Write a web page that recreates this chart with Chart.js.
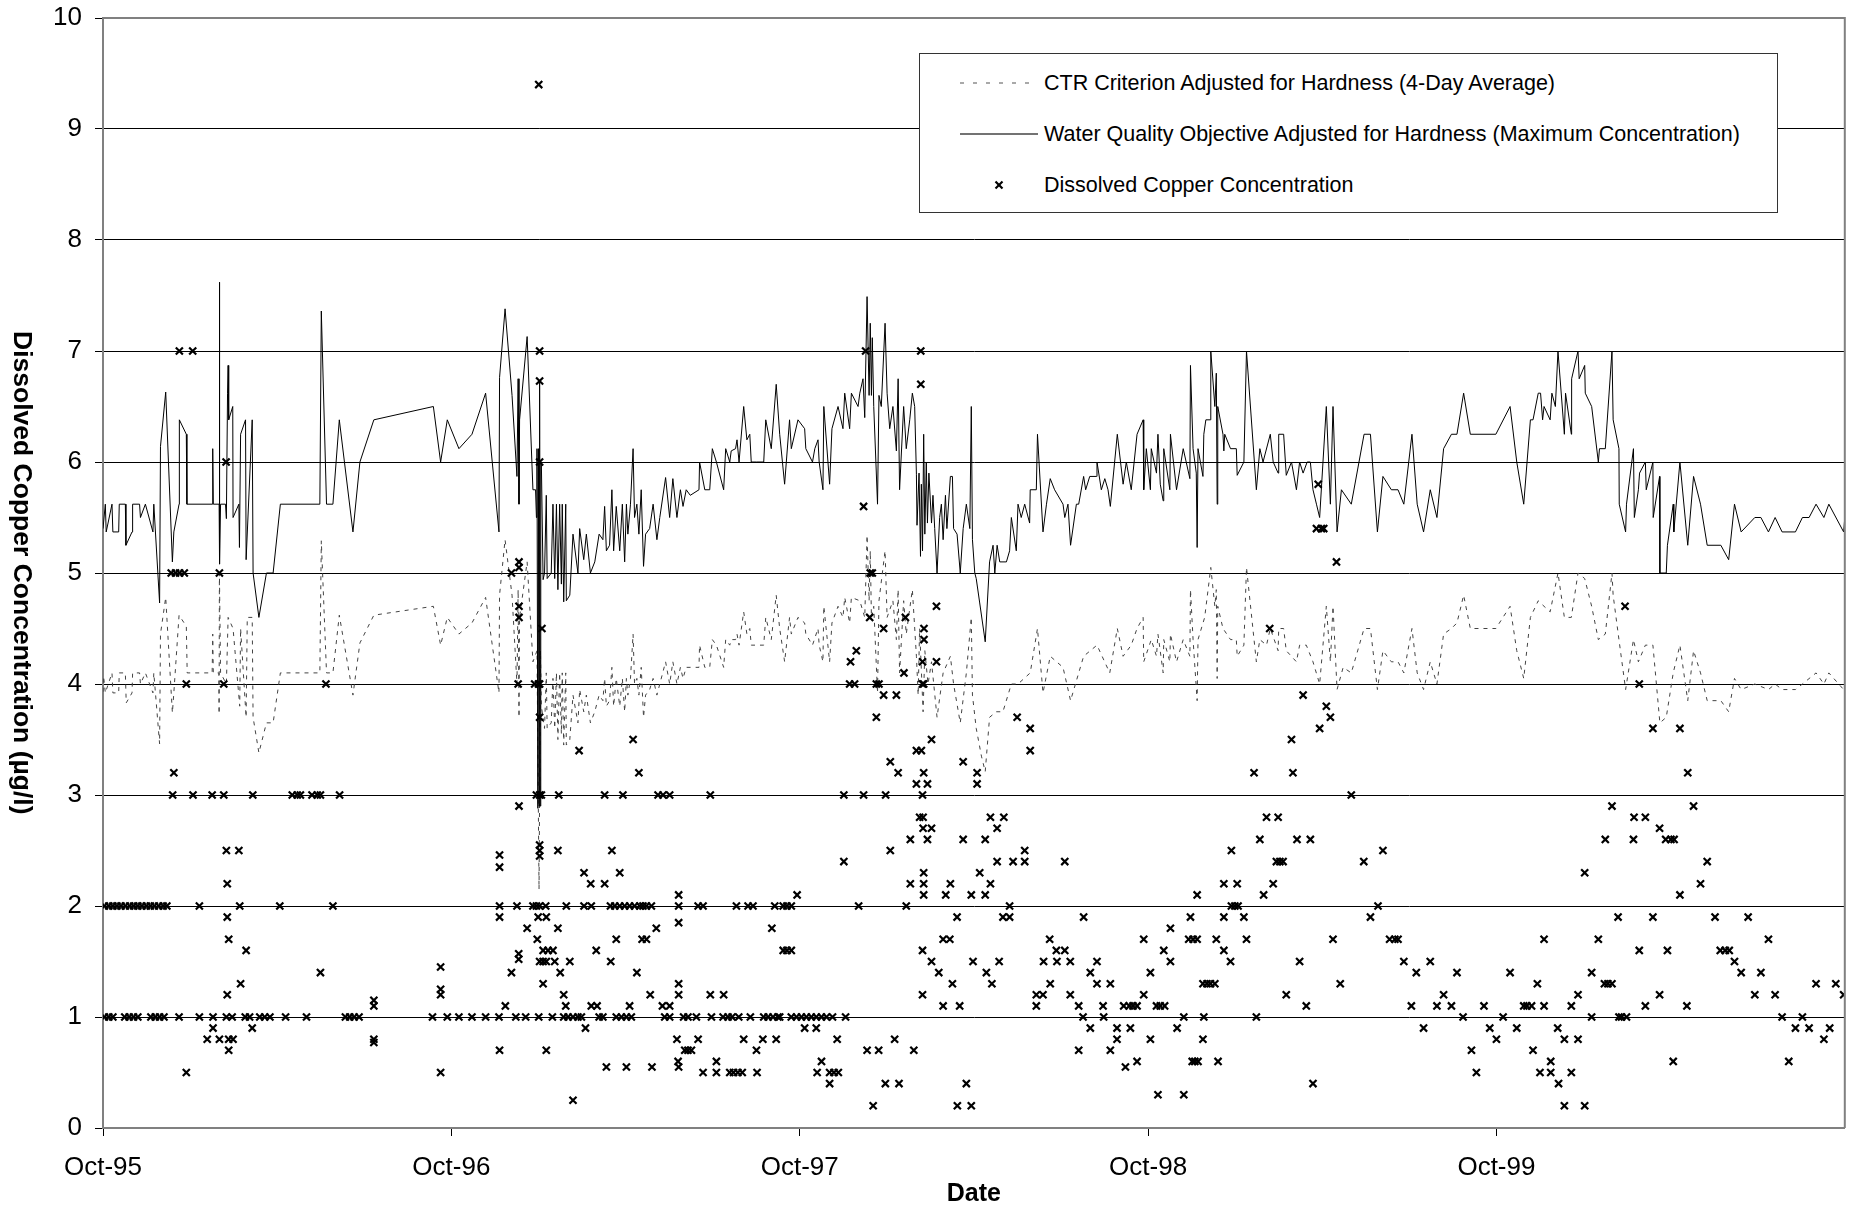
<!DOCTYPE html>
<html>
<head>
<meta charset="utf-8">
<title>Dissolved Copper Concentration</title>
<script src="https://cdn.jsdelivr.net/npm/chart.js@4.4.1/dist/chart.umd.min.js"></script>
<style>
    body { margin: 0; background: #fff; }
    #chartBox { position: relative; width: 1852px; height: 1209px; }
    #yTitle {
        position: absolute; left: 8px; top: 18px; width: 30px; height: 1110px;
        writing-mode: vertical-rl; text-align: center; line-height: 30px;
        font-family: "Liberation Sans", Arial, sans-serif; font-size: 26.5px; font-weight: bold; color: #000;
    }
    #legendBox {
        position: absolute; left: 919px; top: 53px; width: 857px; height: 158px;
        border: 1px solid #333; background: #fff;
        font-family: "Liberation Sans", Arial, sans-serif; font-size: 21.5px; color: #000;
    }
    .legendText { position: absolute; left: 124px; height: 26px; line-height: 26px; white-space: nowrap; }
    .legendIcon { position: absolute; left: 38px; width: 82px; height: 10px; }
</style>
</head>
<body>
<div id="chartBox">
    <canvas id="copperChart" width="1852" height="1209"></canvas>
    <div id="yTitle">Dissolved Copper Concentration (µg/l)</div>
    <div id="legendBox">
        <svg class="legendIcon" style="top:24px" viewBox="0 0 82 10"><line x1="2" y1="5" x2="80" y2="5" stroke="#555" stroke-width="1.2" stroke-dasharray="4 9"/></svg>
        <div class="legendText" style="top:16px">CTR Criterion Adjusted for Hardness (4-Day Average)</div>
        <svg class="legendIcon" style="top:75px" viewBox="0 0 82 10"><line x1="2" y1="5" x2="80" y2="5" stroke="#444" stroke-width="1.5"/></svg>
        <div class="legendText" style="top:67px">Water Quality Objective Adjusted for Hardness (Maximum Concentration)</div>
        <svg class="legendIcon" style="top:126px" viewBox="0 0 82 10"><line x1="37.5" y1="1.5" x2="44.5" y2="8.5" stroke="#000" stroke-width="2.2"/><line x1="44.5" y1="1.5" x2="37.5" y2="8.5" stroke="#000" stroke-width="2.2"/></svg>
        <div class="legendText" style="top:118px">Dissolved Copper Concentration</div>
    </div>
</div>
<script>
// x values are months since Oct-95
var tickMonths = [0, 12, 24, 36, 48];
var tickLabels = ["Oct-95", "Oct-96", "Oct-97", "Oct-98", "Oct-99"];

// Water Quality Objective adjusted for hardness (maximum concentration) [month, ug/l]
var wqoLine = [
[0,5.4],[0.08,5.62],[0.11,5.37],[0.31,5.62],[0.34,5.37],[0.54,5.37],[0.56,5.62],[0.77,5.62],[0.79,5.25],[1.0,5.37],[1.02,5.62],[1.26,5.62],[1.29,5.5],[1.46,5.62],[1.72,5.37],[1.75,5.62],[1.95,4.73],[1.98,6.14],[2.16,6.63],[2.39,5.1],[2.44,5.37],[2.62,5.62],[2.63,6.38],[2.87,6.25],[2.89,5.62],[3.76,5.62],[3.78,6.12],[3.8,5.62],[4.0,5.62],[4.01,7.62],[4.02,5.08],[4.05,5.62],[4.22,5.62],[4.25,5.49],[4.29,6.62],[4.31,6.87],[4.33,6.38],[4.47,6.5],[4.48,5.5],[4.68,5.62],[4.7,5.23],[4.74,6.25],[4.91,6.38],[4.93,5.12],[5.14,6.38],[5.17,5.0],[5.37,4.6],[5.63,5.0],[5.86,5.0],[6.11,5.62],[7.47,5.62],[7.52,7.36],[7.7,5.62],[7.92,5.62],[8.14,6.38],[8.61,5.37],[8.85,6.0],[9.33,6.38],[11.38,6.5],[11.63,6.0],[11.86,6.38],
[12.26,6.12],[12.71,6.25],[13.18,6.62],[13.64,5.37],[13.66,6.76],[13.85,7.38],[14.09,6.6],[14.26,5.87],[14.3,6.75],[14.33,5.62],[14.35,6.38],[14.61,7.13],[14.81,5.75],[14.9,5.75],[14.93,5.5],[14.95,6.12],[14.98,2.88],[15.0,6.12],[15.02,2.9],[15.04,6.72],[15.06,2.9],[15.08,6.0],[15.1,6.0],[15.16,4.94],[15.21,5.0],[15.27,5.7],[15.3,4.95],[15.44,5.0],[15.5,5.62],[15.56,4.95],[15.62,5.62],[15.67,4.85],[15.73,5.62],[15.79,4.9],[15.82,5.62],[15.87,4.74],[15.94,5.62],[15.96,4.75],[16.08,4.8],[16.19,5.35],[16.36,5.0],[16.42,5.4],[16.56,5.12],[16.65,5.35],[16.79,5.0],[16.94,5.1],[17.09,5.35],[17.22,5.3],[17.28,5.6],[17.34,5.2],[17.45,5.25],[17.53,5.75],[17.59,5.2],[17.68,5.6],[17.8,5.2],[17.89,5.62],[17.97,5.1],[18.03,5.62],[18.08,5.35],[18.17,5.62],[18.26,6.12],[18.31,5.5],[18.39,5.62],[18.46,5.35],[18.54,5.75],[18.62,5.06],[18.69,5.35],[18.83,5.4],[18.95,5.62],[19.08,5.3],[19.18,5.5],[19.38,5.86],[19.52,5.5],[19.63,5.85],[19.77,5.5],[19.89,5.75],[19.98,5.6],[20.09,5.75],[20.23,5.7],[20.53,5.75],[20.55,6.0],[20.73,5.75],[20.9,5.75],[20.99,6.12],[21.13,6.0],[21.38,5.75],[21.45,6.12],[21.59,6.0],[21.64,6.1],[21.79,6.12],[21.84,6.2],[21.91,6.0],[22.07,6.5],[22.18,6.2],[22.28,6.25],[22.33,6.0],[22.51,6.0],[22.76,6.0],[22.83,6.38],[23.02,6.12],[23.19,6.7],[23.31,6.25],[23.48,5.8],[23.65,6.38],[23.71,6.12],[23.94,6.38],
[24.17,6.3],[24.21,6.12],[24.44,6.0],[24.52,6.12],[24.63,6.2],[24.67,6.0],[24.8,5.75],[24.83,6.5],[25.03,5.8],[25.11,6.3],[25.32,6.5],[25.49,6.3],[25.55,6.62],[25.72,6.3],[25.78,6.62],[26.01,6.5],[26.07,6.62],[26.18,6.75],[26.24,6.4],[26.32,7.49],[26.39,6.6],[26.43,7.25],[26.47,6.6],[26.5,7.12],[26.55,6.5],[26.68,5.62],[26.73,6.6],[26.81,6.5],[26.94,7.25],[27.01,6.62],[27.1,6.3],[27.21,6.5],[27.33,6.1],[27.39,6.75],[27.44,5.75],[27.58,6.5],[27.67,6.12],[27.79,6.38],[27.88,6.62],[27.96,6.5],[28.02,5.89],[28.04,5.43],[28.11,5.9],[28.16,5.15],[28.19,5.8],[28.23,5.2],[28.27,6.25],[28.31,5.35],[28.36,6.0],[28.4,5.45],[28.45,5.9],[28.54,5.45],[28.59,5.7],[28.65,5.4],[28.73,5.0],[28.82,5.5],[28.88,5.62],[28.94,5.3],[29.02,5.7],[29.07,5.4],[29.19,5.87],[29.26,5.87],[29.3,5.4],[29.42,5.35],[29.53,5.0],[29.63,5.4],[29.74,5.62],[29.86,5.4],[29.91,6.5],[29.95,5.3],[30.03,5.0],[30.08,4.95],[30.2,4.73],[30.39,4.38],[30.54,5.1],[30.66,5.25],[30.72,5.0],[30.8,5.25],[30.89,5.1],[31.12,5.1],[31.23,5.2],[31.29,5.5],[31.46,5.2],[31.52,5.62],[31.63,5.5],[31.75,5.62],[31.92,5.45],[31.94,5.75],[32.15,5.75],[32.19,6.25],[32.38,5.37],[32.5,5.62],[32.63,5.85],[32.78,5.75],[33.07,5.62],[33.13,5.5],[33.24,5.62],[33.33,5.25],[33.53,5.62],[33.61,5.62],[33.78,5.87],[33.85,5.75],[33.99,5.87],[34.22,5.87],[34.24,6.0],[34.39,5.75],[34.51,5.85],[34.62,5.75],[34.7,5.6],[34.94,6.25],[35.14,5.8],[35.25,6.0],[35.42,5.75],[35.62,6.25],
[35.83,6.38],[35.85,5.75],[35.94,6.12],[36.08,5.75],[36.11,6.12],[36.29,5.9],[36.34,6.25],[36.42,5.8],[36.52,5.65],[36.54,6.12],[36.75,5.75],[36.77,6.25],[36.98,5.75],[37.21,6.12],[37.44,5.85],[37.46,6.87],[37.55,6.12],[37.66,5.9],[37.69,5.23],[37.72,6.12],[37.89,5.87],[37.92,6.25],[37.99,6.38],[38.15,6.38],[38.16,7.0],[38.3,6.5],[38.35,6.8],[38.38,5.62],[38.4,6.5],[38.58,6.25],[38.61,6.1],[38.64,6.25],[38.84,6.12],[39.04,6.12],[39.07,5.88],[39.3,6.0],[39.39,7.0],[39.73,5.75],[39.85,6.12],[39.96,6.0],[40.21,6.25],[40.31,6.0],[40.48,5.9],[40.5,6.25],[40.67,6.25],[40.76,5.88],[40.94,6.0],[41.11,5.75],[41.22,6.0],[41.34,5.9],[41.48,6.0],[41.59,6.0],[41.68,5.75],[41.8,5.62],[41.91,5.5],[42.14,6.5],[42.28,5.62],[42.37,6.5],[42.51,5.37],[42.66,5.75],[43.0,5.62],[43.44,6.25],[43.66,6.25],[43.9,5.37],[44.09,5.87],[44.38,5.75],[44.61,5.75],[44.81,5.62],[45.09,6.25],[45.27,5.62],[45.49,5.37],[45.72,5.75],[45.95,5.5],[46.18,6.12],[46.45,6.25],[46.64,6.25],[46.87,6.62],
[47.1,6.25],[47.98,6.25],[48.47,6.5],[48.7,6.0],[48.94,5.62],[49.17,6.38],[49.26,6.38],[49.44,6.62],[49.52,6.62],[49.59,6.38],[49.64,6.5],[49.85,6.38],[49.91,6.62],[50.03,6.5],[50.12,7.0],[50.34,6.25],[50.38,6.62],[50.58,6.25],[50.59,6.75],[50.81,7.0],[50.85,6.75],[51.04,6.87],[51.06,6.62],[51.28,6.5],[51.51,6.0],[51.55,6.12],[51.75,6.12],[51.98,7.0],[52.02,6.38],[52.22,6.12],[52.23,5.62],[52.45,5.37],[52.48,5.62],[52.72,6.12],[52.75,5.5],[52.89,5.75],[52.93,5.9],[53.13,6.0],[53.16,5.75],[53.39,6.0],[53.4,5.5],[53.62,5.87],[53.63,5.0],[53.85,5.0],[53.89,5.25],[54.09,5.62],[54.11,5.37],[54.32,6.0],[54.59,5.25],[54.79,5.87],[55.03,5.62],[55.26,5.25],[55.73,5.25],[56.0,5.12],[56.2,5.62],[56.43,5.37],[56.9,5.5],[57.11,5.5],[57.37,5.37],[57.6,5.5],[57.84,5.37],[58.3,5.37],[58.54,5.5],[58.77,5.5],[59.01,5.62],[59.28,5.5],[59.45,5.62],[59.96,5.37],[60,5.5]
];

// CTR criterion adjusted for hardness (4-day average) [month, ug/l]
var ctrLine = [
[0,3.93],[0.02,4.07],[0.08,3.92],[0.31,4.1],[0.34,3.92],[0.54,3.92],[0.56,4.1],[0.77,4.1],[0.8,3.83],[1.0,3.92],[1.02,4.1],[1.26,4.1],[1.29,4.0],[1.46,4.1],[1.72,3.92],[1.75,4.1],[1.95,3.46],[1.98,4.45],[2.16,4.78],[2.39,3.74],[2.44,3.92],[2.62,4.62],[2.87,4.52],[2.9,4.1],[3.76,4.1],[3.78,4.45],[3.8,4.1],[3.99,4.1],[4.0,3.73],[4.01,5.0],[4.05,4.1],[4.25,4.0],[4.31,4.6],[4.48,4.5],[4.71,3.8],[4.74,4.5],[4.93,3.7],[4.97,4.6],[5.14,4.6],[5.17,3.7],[5.37,3.38],[5.63,3.65],[5.86,3.65],[6.11,4.1],[7.47,4.1],[7.52,5.29],[7.7,4.1],[7.92,4.1],[8.14,4.62],[8.61,3.9],[8.85,4.37],[9.33,4.62],[11.38,4.7],[11.63,4.35],[11.86,4.6],
[12.26,4.45],[12.71,4.55],[13.18,4.78],[13.64,3.92],[13.66,4.8],[13.85,5.3],[14.09,4.8],[14.26,4.0],[14.3,4.85],[14.33,3.7],[14.35,4.6],[14.61,5.1],[14.81,4.2],[14.95,4.3],[15.02,2.15],[15.07,4.3],[15.1,3.8],[15.21,3.6],[15.27,4.1],[15.3,3.6],[15.44,3.65],[15.5,4.05],[15.56,3.6],[15.62,4.1],[15.67,3.5],[15.73,4.1],[15.79,3.55],[15.82,4.1],[15.87,3.45],[15.94,4.1],[15.96,3.45],[16.08,3.5],[16.19,3.9],[16.36,3.65],[16.42,3.95],[16.56,3.75],[16.65,3.9],[16.79,3.65],[16.94,3.75],[17.09,3.9],[17.22,3.85],[17.28,4.05],[17.34,3.8],[17.45,3.85],[17.53,4.15],[17.59,3.8],[17.68,4.05],[17.8,3.8],[17.89,4.05],[17.97,3.75],[18.03,4.05],[18.08,3.9],[18.17,4.05],[18.26,4.45],[18.31,4.0],[18.39,4.05],[18.46,3.9],[18.54,4.15],[18.62,3.7],[18.69,3.9],[18.83,3.95],[18.95,4.05],[19.08,3.9],[19.18,4.0],[19.38,4.2],[19.52,4.0],[19.63,4.2],[19.77,4.0],[19.89,4.15],[19.98,4.05],[20.09,4.15],[20.23,4.15],[20.53,4.15],[20.55,4.35],[20.73,4.15],[20.9,4.15],[20.99,4.4],[21.13,4.35],[21.38,4.15],[21.45,4.4],[21.59,4.35],[21.64,4.4],[21.79,4.4],[21.84,4.45],[21.91,4.35],[22.07,4.65],[22.18,4.45],[22.28,4.5],[22.33,4.35],[22.51,4.35],[22.76,4.35],[22.83,4.6],[23.02,4.4],[23.19,4.8],[23.31,4.5],[23.48,4.2],[23.65,4.6],[23.71,4.45],[23.94,4.6],
[24.17,4.55],[24.21,4.45],[24.44,4.35],[24.63,4.5],[24.67,4.35],[24.8,4.2],[24.83,4.7],[25.03,4.2],[25.11,4.55],[25.32,4.7],[25.49,4.6],[25.55,4.78],[25.72,4.55],[25.78,4.78],[26.07,4.75],[26.24,4.6],[26.32,5.34],[26.39,4.75],[26.43,5.2],[26.47,4.6],[26.55,4.7],[26.68,3.92],[26.73,4.75],[26.94,5.2],[27.01,4.6],[27.21,4.75],[27.33,4.4],[27.39,4.85],[27.44,4.1],[27.58,4.75],[27.67,4.45],[27.88,4.85],[28.02,4.25],[28.08,3.9],[28.13,4.5],[28.25,3.75],[28.31,4.3],[28.42,4.0],[28.54,4.2],[28.73,3.7],[28.94,4.1],[29.19,4.25],[29.3,4.0],[29.53,3.65],[29.74,4.1],[29.91,4.6],[29.95,3.9],[30.08,3.6],[30.26,3.35],[30.39,3.21],[30.54,3.7],[30.77,3.75],[31.0,3.75],[31.29,4.0],[31.52,4.0],[31.94,4.1],[32.19,4.5],[32.38,3.92],[32.63,4.25],[33.07,4.15],[33.33,3.85],[33.61,4.1],[33.78,4.25],[34.24,4.35],[34.68,4.1],[34.94,4.5],[35.14,4.25],[35.42,4.35],[35.62,4.5],
[35.83,4.6],[35.85,4.2],[36.11,4.4],[36.29,4.25],[36.34,4.45],[36.52,4.1],[36.54,4.4],[36.75,4.2],[36.77,4.45],[36.98,4.2],[37.21,4.4],[37.44,4.25],[37.46,4.85],[37.55,4.4],[37.69,3.85],[37.72,4.4],[37.95,4.6],[38.16,5.05],[38.3,4.7],[38.35,4.85],[38.38,4.05],[38.4,4.7],[38.58,4.5],[38.84,4.4],[39.04,4.4],[39.07,4.25],[39.3,4.35],[39.39,5.05],[39.73,4.2],[39.85,4.4],[40.08,4.35],[40.21,4.5],[40.48,4.3],[40.5,4.5],[40.67,4.5],[40.76,4.3],[41.11,4.2],[41.22,4.35],[41.45,4.35],[41.68,4.2],[41.91,4.0],[42.14,4.7],[42.28,4.2],[42.37,4.7],[42.51,3.95],[42.72,4.15],[43.0,4.1],[43.44,4.5],[43.66,4.5],[43.9,3.95],[44.09,4.3],[44.38,4.2],[44.61,4.2],[44.81,4.1],[45.09,4.5],[45.27,4.1],[45.49,3.95],[45.72,4.2],[45.95,4.0],[46.18,4.45],[46.45,4.5],[46.64,4.55],[46.87,4.8],
[47.1,4.5],[47.98,4.5],[48.47,4.7],[48.7,4.3],[48.94,4.05],[49.17,4.6],[49.44,4.75],[49.64,4.7],[49.85,4.65],[50.12,5.0],[50.34,4.6],[50.58,4.6],[50.81,5.0],[51.04,4.95],[51.28,4.7],[51.51,4.4],[51.75,4.45],[51.98,5.0],[52.02,4.8],[52.22,4.4],[52.45,3.95],[52.72,4.4],[52.89,4.2],[53.13,4.35],[53.39,4.35],[53.63,3.65],[53.85,3.7],[54.09,4.1],[54.32,4.35],[54.59,3.85],[54.79,4.3],[55.03,4.1],[55.26,3.85],[55.73,3.85],[56.0,3.75],[56.2,4.05],[56.43,3.95],[56.9,4.0],[57.37,3.95],[57.6,4.0],[57.84,3.95],[58.3,3.95],[58.54,4.0],[59.01,4.1],[59.28,4.0],[59.45,4.1],[59.96,3.95],[60,4.0]
];

// Dissolved copper samples [month, ug/l], one array per water year
var copperWY96 = [
[0.05,2],[0.2,2],[0.34,2],[0.48,2],[0.62,2],[0.77,2],[0.92,2],[1.06,2],[1.2,2],[1.34,2],[1.49,2],[1.63,2],[1.77,2],[1.92,2],[2.07,2],[2.2,2],[3.32,2],[4.71,2],[6.09,2],[7.92,2],
[0.05,1],[0.2,1],[0.34,1],[0.75,1],[0.9,1],[1.05,1],[1.2,1],[1.65,1],[1.8,1],[1.95,1],[2.1,1],[2.62,1],[3.32,1],[3.79,1],[4.25,1],[4.45,1],[4.9,1],[5.05,1],[5.4,1],[5.57,1],[5.75,1],[6.29,1],[7.01,1],[8.35,1],[8.5,1],[8.65,1],[8.82,1],[11.35,1],[11.86,1],
[3.79,0.9],[5.14,0.9],[3.59,0.8],[4.01,0.8],[4.33,0.8],[4.48,0.8],[4.33,0.7],[2.87,0.5],[4.28,1.2],[4.74,1.3],[4.93,1.6],[4.33,1.7],[4.28,1.9],[4.28,2.2],[4.25,2.5],[4.68,2.5],
[2.4,3],[3.1,3],[3.76,3],[4.16,3],[5.16,3],[6.52,3],[6.69,3],[6.8,3],[7.2,3],[7.38,3],[7.49,3],[8.15,3],[2.44,3.2],
[2.87,4],[4.16,4],[7.68,4],[2.35,5],[2.5,5],[2.64,5],[2.8,5],[4.01,5],[4.24,6],[2.63,7],[3.09,7],[7.49,1.4],
[9.33,1.15],[9.33,1.1],[9.33,0.8],[9.33,0.77],[11.63,1.45],[11.63,1.25],[11.63,1.2],[11.63,0.5]
];
var copperWY97 = [
[15.01,9.4],[15.04,7],[15.04,6.73],[15.04,6],[14.07,5],[14.33,5.1],[14.33,5.05],[14.33,4.7],[14.33,4.6],[15.12,4.5],
[14.3,4],[14.87,4],[15.0,4],[15.04,4],[15.04,3.7],[18.26,3.5],[16.4,3.4],[18.46,3.2],
[14.93,3],[15.04,3],[15.1,3],[15.7,3],[17.28,3],[17.91,3],[19.12,3],[19.29,3],[19.52,3],[20.92,3],[14.33,2.9],
[15.04,2.55],[15.04,2.5],[15.04,2.45],[15.67,2.5],[17.53,2.5],[13.66,2.46],[13.66,2.35],[16.57,2.3],[17.8,2.3],[16.8,2.2],[17.28,2.2],[19.83,2.1],
[13.66,2],[14.26,2],[14.81,2],[14.93,2],[15.04,2],[15.25,2],[15.96,2],[16.57,2],[16.82,2],[17.48,2],[17.63,2],[17.8,2],[17.97,2],[18.14,2],[18.31,2],[18.49,2],[18.6,2],[18.72,2],[18.89,2],[19.83,2],[20.5,2],[20.67,2],[21.82,2],[22.22,2],[22.39,2],[23.14,2],
[13.66,1.9],[14.99,1.9],[15.27,1.9],[19.83,1.85],[14.61,1.8],[15.67,1.8],[19.06,1.8],[23.04,1.8],
[14.96,1.7],[17.68,1.7],[18.57,1.7],[18.72,1.7],[15.16,1.6],[15.33,1.6],[15.5,1.6],[16.99,1.6],[14.32,1.57],[14.32,1.52],
[15.04,1.5],[15.16,1.5],[15.27,1.5],[15.56,1.5],[16.08,1.5],[17.49,1.5],[14.07,1.4],[15.75,1.4],[18.39,1.4],[15.16,1.3],[19.83,1.3],
[19.83,1.2],[15.87,1.2],[18.85,1.2],[20.92,1.2],[21.38,1.2],[13.86,1.1],[15.94,1.1],[16.82,1.1],[17.02,1.1],[18.14,1.1],[19.27,1.1],[19.52,1.1],
[12.26,1],[12.71,1],[13.18,1],[13.64,1],[14.22,1],[14.56,1],[15.01,1],[15.48,1],[15.87,1],[16.02,1],[16.19,1],[16.36,1],[16.48,1],[17.09,1],[17.22,1],[17.68,1],[17.86,1],[18.03,1],[18.2,1],[19.35,1],[19.52,1],[20.0,1],[20.15,1],[20.44,1],[20.96,1],[21.36,1],[21.53,1],[21.67,1],[21.9,1],[22.3,1],[22.76,1],[22.91,1],[23.08,1],[23.25,1],
[16.62,0.9],[19.77,0.8],[20.5,0.8],[22.07,0.8],[22.73,0.8],[23.19,0.8],[13.66,0.7],[15.27,0.7],[20.04,0.7],[20.15,0.7],[20.27,0.7],[22.51,0.7],
[19.81,0.6],[21.13,0.6],[17.34,0.55],[18.03,0.55],[18.91,0.55],[19.83,0.55],[20.67,0.5],[21.13,0.5],[21.59,0.5],[21.72,0.5],[21.87,0.5],[22.02,0.5],[22.53,0.5],[16.19,0.25]
];
var copperWY98 = [
[26.27,7],[28.17,7],[28.17,6.7],[26.2,5.6],[26.43,5],[26.5,5],[28.71,4.7],[26.41,4.6],[27.64,4.6],[26.89,4.5],[28.28,4.5],[28.28,4.4],[25.95,4.3],
[25.75,4.2],[28.23,4.2],[28.71,4.2],[27.59,4.1],[25.72,4],[25.89,4],[26.64,4],[26.73,4],[28.23,4],[28.27,4],[26.89,3.9],[27.33,3.9],
[26.64,3.7],[31.49,3.7],[31.94,3.6],[28.54,3.5],[28.02,3.4],[28.19,3.4],[31.94,3.4],[27.12,3.3],[29.63,3.3],[27.39,3.2],[28.27,3.2],[30.11,3.2],[28.02,3.1],[28.4,3.1],[30.11,3.1],
[25.52,3],[26.2,3],[26.96,3],[28.23,3],[28.13,2.8],[28.25,2.8],[30.57,2.8],[31.03,2.8],[28.25,2.7],[28.54,2.7],[30.8,2.7],[27.81,2.6],[28.4,2.6],[29.63,2.6],[30.39,2.6],
[27.12,2.5],[31.75,2.5],[25.52,2.4],[30.8,2.4],[31.35,2.4],[31.75,2.4],[33.13,2.4],[28.27,2.3],[30.2,2.3],[27.81,2.2],[28.27,2.2],[29.19,2.2],[30.57,2.2],
[28.27,2.1],[29.03,2.1],[29.91,2.1],[30.39,2.1],[23.91,2.1],[23.43,2],[23.56,2],[23.71,2],[26.03,2],[27.67,2],[31.23,2],[29.42,1.9],[31.0,1.9],[31.23,1.9],[33.78,1.9],
[28.94,1.7],[29.17,1.7],[32.61,1.7],[23.43,1.6],[23.56,1.6],[23.71,1.6],[28.23,1.6],[32.84,1.6],[33.13,1.6],[28.54,1.5],[29.97,1.5],[30.87,1.5],[32.4,1.5],[32.86,1.5],[33.32,1.5],[34.24,1.5],
[28.79,1.4],[30.43,1.4],[34.01,1.4],[29.26,1.3],[30.62,1.3],[32.63,1.3],[34.24,1.3],[34.7,1.3],[28.23,1.2],[32.15,1.2],[32.38,1.2],[33.32,1.2],[28.94,1.1],[29.51,1.1],[32.15,1.1],[33.61,1.1],[34.45,1.1],
[23.31,1],[23.71,1],[23.89,1],[24.06,1],[24.23,1],[24.4,1],[24.57,1],[24.75,1],[24.92,1],[25.13,1],[25.58,1],[33.76,1],[34.47,1],
[24.17,0.9],[24.57,0.9],[34.01,0.9],[34.93,0.9],[25.29,0.8],[27.27,0.8],[34.93,0.8],[26.32,0.7],[26.72,0.7],[27.93,0.7],[33.61,0.7],[34.7,0.7],[24.75,0.6],
[24.6,0.5],[25.03,0.5],[25.18,0.5],[25.33,0.5],[25.03,0.4],[26.95,0.4],[27.42,0.4],[29.74,0.4],[26.53,0.2],[29.43,0.2],[29.91,0.2]
];
var copperWY99 = [
[41.86,5.8],[41.8,5.4],[41.97,5.4],[42.05,5.4],[42.49,5.1],[40.19,4.5],[41.34,3.9],[42.14,3.8],[42.28,3.7],[41.91,3.6],[40.94,3.5],[39.65,3.2],[40.99,3.2],[43.0,3],
[40.08,2.8],[40.48,2.8],[39.85,2.6],[41.13,2.6],[41.59,2.6],[38.87,2.5],[44.09,2.5],[40.42,2.4],[40.54,2.4],[40.65,2.4],[43.43,2.4],[38.61,2.2],[39.07,2.2],[40.31,2.2],[37.69,2.1],[39.98,2.1],
[38.87,2],[38.99,2],[39.1,2],[43.92,2],[37.46,1.9],[38.61,1.9],[39.3,1.9],[43.66,1.9],[36.77,1.8],
[35.85,1.7],[37.4,1.7],[37.55,1.7],[37.69,1.7],[38.35,1.7],[39.39,1.7],[42.37,1.7],[44.32,1.7],[44.5,1.7],[44.61,1.7],[36.54,1.6],[38.61,1.6],
[36.77,1.5],[38.84,1.5],[41.22,1.5],[44.81,1.5],[45.72,1.5],[36.08,1.4],[45.24,1.4],[46.64,1.4],[37.89,1.3],[38.03,1.3],[38.15,1.3],[38.3,1.3],[42.62,1.3],[35.85,1.2],[40.76,1.2],[46.18,1.2],
[35.16,1.1],[35.35,1.1],[35.48,1.1],[35.62,1.1],[36.29,1.1],[36.42,1.1],[36.57,1.1],[41.45,1.1],[45.07,1.1],[45.95,1.1],[46.45,1.1],[37.23,1],[37.92,1],[39.73,1],[46.85,1],
[35.39,0.9],[37.0,0.9],[45.49,0.9],[36.08,0.8],[37.89,0.8],[47.14,0.7],[35.62,0.6],[37.52,0.6],[37.61,0.6],[37.72,0.6],[38.41,0.6],[35.22,0.55],[47.31,0.5],[41.68,0.4],[36.34,0.3],[37.23,0.3]
];
var copperWY00 = [
[52.43,4.7],[52.92,4],[53.39,3.6],[54.32,3.6],[54.59,3.2],[51.98,2.9],[54.79,2.9],[52.74,2.8],[53.13,2.8],[53.62,2.7],[51.75,2.6],[52.72,2.6],[53.83,2.6],[54.01,2.6],[54.12,2.6],
[55.26,2.4],[51.04,2.3],[55.03,2.2],[54.32,2.1],[52.19,1.9],[53.39,1.9],[55.53,1.9],[56.67,1.9],[49.64,1.7],[51.51,1.7],[57.37,1.7],
[52.92,1.6],[53.89,1.6],[55.71,1.6],[55.88,1.6],[56.02,1.6],[56.2,1.5],[48.47,1.4],[51.28,1.4],[56.43,1.4],[57.11,1.4],
[49.41,1.3],[51.72,1.3],[51.84,1.3],[51.98,1.3],[59.01,1.3],[59.69,1.3],[50.81,1.2],[53.62,1.2],[56.9,1.2],[57.6,1.2],[59.96,1.2],
[47.57,1.1],[48.94,1.1],[49.05,1.1],[49.21,1.1],[49.64,1.1],[50.58,1.1],[53.13,1.1],[54.56,1.1],[48.23,1],[51.28,1],[52.22,1],[52.31,1],[52.48,1],[57.84,1],[58.54,1],
[47.77,0.9],[48.7,0.9],[50.11,0.9],[58.3,0.9],[58.77,0.9],[59.48,0.9],[48.0,0.8],[50.34,0.8],[50.81,0.8],[59.28,0.8],[49.26,0.7],[49.87,0.6],[54.09,0.6],[58.07,0.6],
[49.5,0.5],[49.87,0.5],[50.58,0.5],[50.14,0.4],[50.34,0.2],[51.04,0.2]
];

function toPoints(pairs)
{
    return pairs.map(function (p) { return {x: p[0], y: p[1]}; });
}

var copperAll = [].concat(copperWY96, copperWY97, copperWY98, copperWY99, copperWY00);

Chart.defaults.font.family = '"Liberation Sans", Arial, sans-serif';
Chart.defaults.color = '#000';

// top and right edges of the plot frame
var plotFrame = {
    id: 'plotFrame',
    afterDraw: function (chart) {
        var a = chart.chartArea;
        var ctx = chart.ctx;
        ctx.save();
        ctx.strokeStyle = '#808080';
        ctx.lineWidth = 2;
        ctx.beginPath();
        ctx.moveTo(a.left, a.top);
        ctx.lineTo(a.right, a.top);
        ctx.lineTo(a.right, a.bottom);
        ctx.stroke();
        ctx.restore();
    }
};

var copperChart = new Chart(document.getElementById('copperChart'), {
    type: 'scatter',
    data: {
        datasets: [
            {
                label: 'Dissolved Copper Concentration',
                data: toPoints(copperAll),
                pointStyle: 'crossRot',
                pointRadius: 5,
                pointBorderWidth: 2.2,
                borderColor: '#000',
                backgroundColor: '#000',
                showLine: false
            },
            {
                label: 'Water Quality Objective Adjusted for Hardness (Maximum Concentration)',
                data: toPoints(wqoLine),
                showLine: true,
                borderColor: '#000',
                borderWidth: 1,
                pointRadius: 0,
                tension: 0
            },
            {
                label: 'CTR Criterion Adjusted for Hardness (4-Day Average)',
                data: toPoints(ctrLine),
                showLine: true,
                borderColor: '#444',
                borderWidth: 1,
                borderDash: [4, 5],
                pointRadius: 0,
                tension: 0
            }
        ]
    },
    options: {
        responsive: false,
        animation: false,
        layout: {
            padding: {top: 18, right: 4, left: 0, bottom: 0}
        },
        plugins: {
            legend: {display: false},
            tooltip: {enabled: false}
        },
        scales: {
            x: {
                type: 'linear',
                min: 0,
                max: 60,
                afterBuildTicks: function (scale) {
                    scale.ticks = tickMonths.map(function (m) { return {value: m}; });
                },
                afterFit: function (scale) {
                    scale.height = 81;
                },
                ticks: {
                    font: {size: 26},
                    padding: 16,
                    maxRotation: 0,
                    callback: function (value) {
                        var i = tickMonths.indexOf(value);
                        return i >= 0 ? tickLabels[i] : '';
                    }
                },
                grid: {
                    drawOnChartArea: false,
                    drawTicks: true,
                    tickLength: 8,
                    color: '#000'
                },
                border: {color: '#808080', width: 2},
                title: {
                    display: true,
                    text: 'Date',
                    font: {size: 25, weight: 'bold', lineHeight: 1},
                    padding: {top: 0, bottom: 2}
                }
            },
            y: {
                min: 0,
                max: 10,
                afterFit: function (scale) {
                    scale.width = 103;
                    scale.paddingTop = 0;
                    scale.paddingBottom = 0;
                },
                ticks: {
                    stepSize: 1,
                    font: {size: 26},
                    padding: 13
                },
                grid: {
                    color: '#000',
                    lineWidth: 1,
                    tickLength: 8
                },
                border: {color: '#808080', width: 2}
            }
        }
    },
    plugins: [plotFrame]
});
</script>
</body>
</html>
